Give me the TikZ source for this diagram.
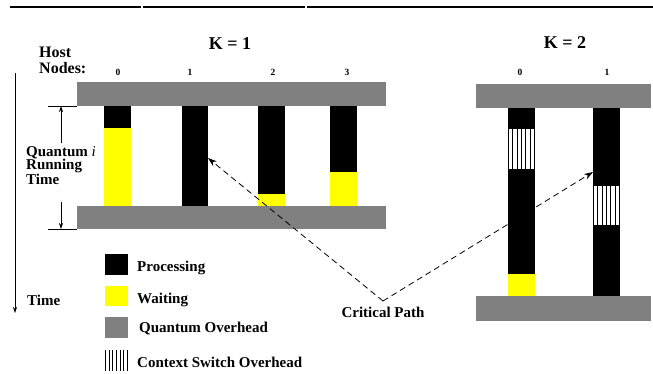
\documentclass[tikz,border=0pt]{standalone}
\usepackage{fontspec}
\setmainfont{Liberation Serif}
\usetikzlibrary{arrows.meta}
\definecolor{qgray}{HTML}{808080}
\definecolor{wyellow}{HTML}{FFFF00}
\newcommand\myhatch[4]{%
  \fill[white] (#1,#2) rectangle (#3,#4);
  \foreach \k in {0,...,6} {\draw[line width=0.9pt] ({#1+0.45+\k*(#3-#1-0.9)/6},#2) -- ({#1+0.45+\k*(#3-#1-0.9)/6},#4);}%
}
\begin{document}
\begin{tikzpicture}[x=1pt,y=-1pt,
  txt/.style={font=\bfseries\fontsize{15}{15}\selectfont, inner sep=0pt, anchor=base west},
  big/.style={font=\bfseries\fontsize{18}{18}\selectfont, inner sep=0pt, anchor=base},
  num/.style={font=\bfseries\fontsize{9.5}{9.5}\selectfont, inner sep=0pt, anchor=base},
  crit/.style={dash pattern=on 6pt off 4pt, line width=0.8pt, -{Stealth[length=9pt,width=6pt]}},
  dim/.style={line width=0.8pt, -{Stealth[length=6pt,width=4pt]}},
  tick/.style={line width=0.8pt},
  qbar/.style={fill=qgray},
  proc/.style={fill=black},
  wait/.style={fill=wyellow}]
\useasboundingbox (0,0) rectangle (653,373);
\fill[white] (0,0) rectangle (653,373);
% top rule
\fill[black] (10,6) rectangle (141,8);
\fill[black] (143,6) rectangle (305,8);
\fill[black] (307,6) rectangle (653,8);
% titles
\node[big] (k1) at (230,49) {K = 1};
\node[big] (k2) at (565,48) {K = 2};
\node[font=\bfseries\fontsize{16}{16}\selectfont, inner sep=0pt, anchor=base west] (host) at (39,57) {Host};
\node[font=\bfseries\fontsize{16}{16}\selectfont, inner sep=0pt, anchor=base west] (nodes) at (39,73) {Nodes:};
\node[num] (n10) at (118,75) {0};
\node[num] (n11) at (190,75) {1};
\node[num] (n12) at (273,75) {2};
\node[num] (n13) at (347,75) {3};
\node[num] (n20) at (520,75) {0};
\node[num] (n21) at (607,75) {1};
% K=1 overhead bars
\fill[qbar] (77,82) rectangle (386,106);
\fill[qbar] (77,206) rectangle (386,229);
% K=1 columns
\fill[proc] (104,106) rectangle (131,128);
\fill[wait] (104,128) rectangle (131,206);
\fill[proc] (182,106) rectangle (208,206);
\fill[proc] (258,106) rectangle (285,194);
\fill[wait] (258,194) rectangle (285,206);
\fill[proc] (330,106) rectangle (357,172);
\fill[wait] (330,172) rectangle (357,206);
% K=2 overhead bars
\fill[qbar] (476,84) rectangle (651,108);
\fill[qbar] (476,296) rectangle (651,321);
% K=2 columns
\fill[proc] (508,108) rectangle (535,129);
\myhatch{508}{129}{535}{169}
\fill[proc] (508,169) rectangle (535,274);
\fill[wait] (508,274) rectangle (535,296);
\fill[proc] (593,108) rectangle (620,186);
\myhatch{593}{186}{620}{225}
\fill[proc] (593,225) rectangle (620,296);
% time axis
\coordinate (tTop) at (15,73);
\coordinate (tBot) at (15,313);
\draw[dim] (tTop) -- (tBot);
\node[txt] (time) at (27,305) {Time};
% quantum running time dimension
\coordinate (qa1) at (48,106);
\coordinate (qa2) at (77,106);
\coordinate (qb1) at (48,229);
\coordinate (qb2) at (77,229);
\coordinate (qu) at (61,143);
\coordinate (qd) at (61,202);
\draw[tick] (qa1) -- (qa2);
\draw[tick] (qb1) -- (qb2);
\draw[dim] (qu) -- (qu |- qa1);
\draw[dim] (qd) -- (qd |- qb1);
\node[font=\bfseries\fontsize{15}{13.5}\selectfont, inner sep=0pt, anchor=west, align=left] (qi) at (26,165.5) {Quantum {\mdseries\itshape i}\\Running\\Time};
% critical path
\coordinate (vert) at (383,301);
\coordinate (tipA) at (208,158);
\coordinate (tipB) at (593,172);
\draw[crit] (vert) -- (tipA);
\draw[crit] (vert) -- (tipB);
\node[txt, anchor=base] (cpath) at (383,317) {Critical Path};
% legend
\fill[proc] (105,254) rectangle (128,275);
\node[txt] (lp) at (137,271) {Processing};
\fill[wait] (105,286) rectangle (128,306);
\node[txt] (lw) at (137,303) {Waiting};
\fill[qbar] (105,317) rectangle (128,338);
\node[txt] (lq) at (139,332) {Quantum Overhead};
\myhatch{105}{350}{128}{371}
\node[txt] (lc) at (137,367) {Context Switch Overhead};
\end{tikzpicture}
\end{document}
